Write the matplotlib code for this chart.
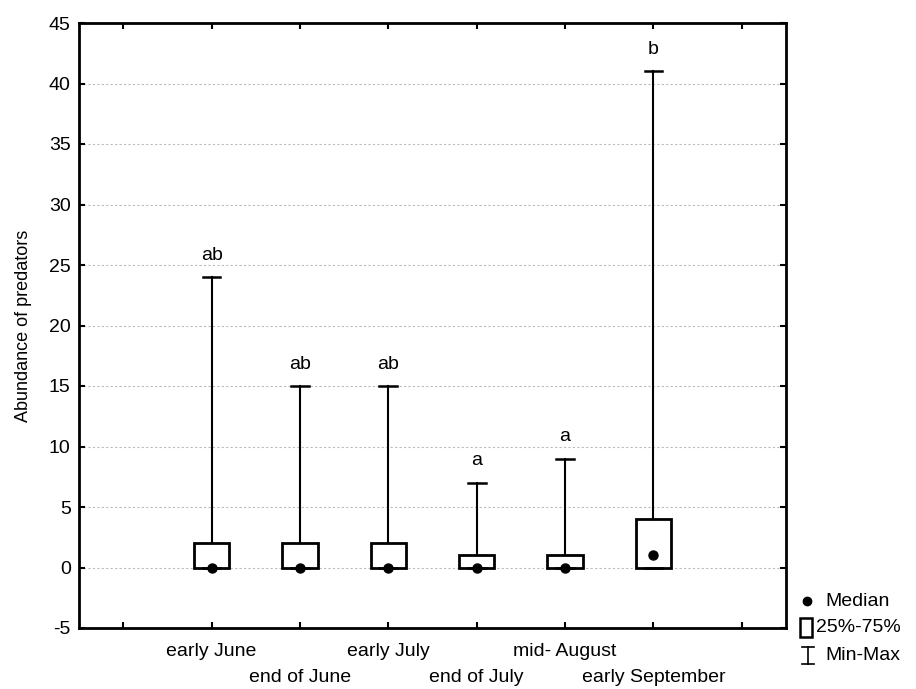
import matplotlib
matplotlib.use("Agg")
import matplotlib.pyplot as plt
from matplotlib.lines import Line2D
from matplotlib.patches import Rectangle
from matplotlib.transforms import blended_transform_factory

plt.rcParams['font.family'] = ['Liberation Sans', 'DejaVu Sans']

categories = ["early June", "end of June", "early July", "end of July", "mid- August", "early September"]
mins = [0, 0, 0, 0, 0, 0]
q1s = [0, 0, 0, 0, 0, 0]
medians = [0, 0, 0, 0, 0, 1]
q3s = [2, 2, 2, 1, 1, 4]
maxs = [24, 15, 15, 7, 9, 41]
letters = ["ab", "ab", "ab", "a", "a", "b"]
yticks = [-5, 0, 5, 10, 15, 20, 25, 30, 35, 40, 45]

FS = 14
W, H = 916, 689
fig = plt.figure(figsize=(W/100, H/100), dpi=100)
ax = fig.add_axes([79/W, 1-628/H, (786-79)/W, (628-23)/H])

stats = []
for i, c in enumerate(categories):
    stats.append(dict(label=c, whislo=mins[i], q1=q1s[i], med=medians[i], q3=q3s[i], whishi=maxs[i], fliers=[]))

pos = list(range(len(categories)))
ax.bxp(stats, positions=pos, widths=0.4, capwidths=0.2, patch_artist=True, showfliers=False,
       boxprops=dict(facecolor='white', edgecolor='black', linewidth=2),
       whiskerprops=dict(color='black', linewidth=1.5),
       capprops=dict(color='black', linewidth=1.8),
       medianprops=dict(linewidth=0), zorder=3)
ax.plot(pos, medians, 'o', color='black', markersize=6.5, zorder=5, clip_on=False)

for i in pos:
    ax.text(i, maxs[i] + 1.1, letters[i], ha='center', va='bottom', fontsize=FS)

ax.set_xlim(-1.5, 6.5)
ax.set_ylim(-5, 45)
ax.set_yticks(yticks)
ax.set_yticklabels([str(v) for v in yticks], fontsize=FS)
ax.set_xticks(range(-1, 7))
ax.set_xticklabels([])
trans = blended_transform_factory(ax.transData, ax.transAxes)
for i, c in enumerate(categories):
    off = -(651-628)/605 if i % 2 == 0 else -(677-628)/605
    ax.text(i, off, c, transform=trans, fontsize=FS, ha='center', va='center')

ax.tick_params(direction='in', length=4, width=1.5, top=True, right=True, pad=6)
ax.set_ylabel("Abundance of predators", fontsize=13, labelpad=12)
for s in ax.spines.values():
    s.set_linewidth(2)
ax.grid(axis='y', color='#bbbbbb', linestyle=(0, (2, 2)), linewidth=0.8, zorder=0)
ax.set_axisbelow(True)

# legend (manual)
fig.add_artist(Line2D([807/W], [1-601/H], marker='o', color='black', markersize=6, linestyle='None'))
fig.text(825/W, 1-601/H, "Median", fontsize=FS, va='center')
fig.add_artist(Rectangle((800/W, 1-637/H), 12/W, 19/H, facecolor='white', edgecolor='black', linewidth=1.8))
fig.text(816/W, 1-628/H, "25%-75%", fontsize=FS, va='center')
fig.add_artist(Line2D([808/W, 808/W], [1-647/H, 1-664/H], color='black', linewidth=1.2))
fig.add_artist(Line2D([802/W, 814/W], [1-647/H, 1-647/H], color='black', linewidth=1.2))
fig.add_artist(Line2D([802/W, 814/W], [1-664/H, 1-664/H], color='black', linewidth=1.2))
fig.text(825/W, 1-655/H, "Min-Max", fontsize=FS, va='center')

fig.savefig("out.png", dpi=100)
